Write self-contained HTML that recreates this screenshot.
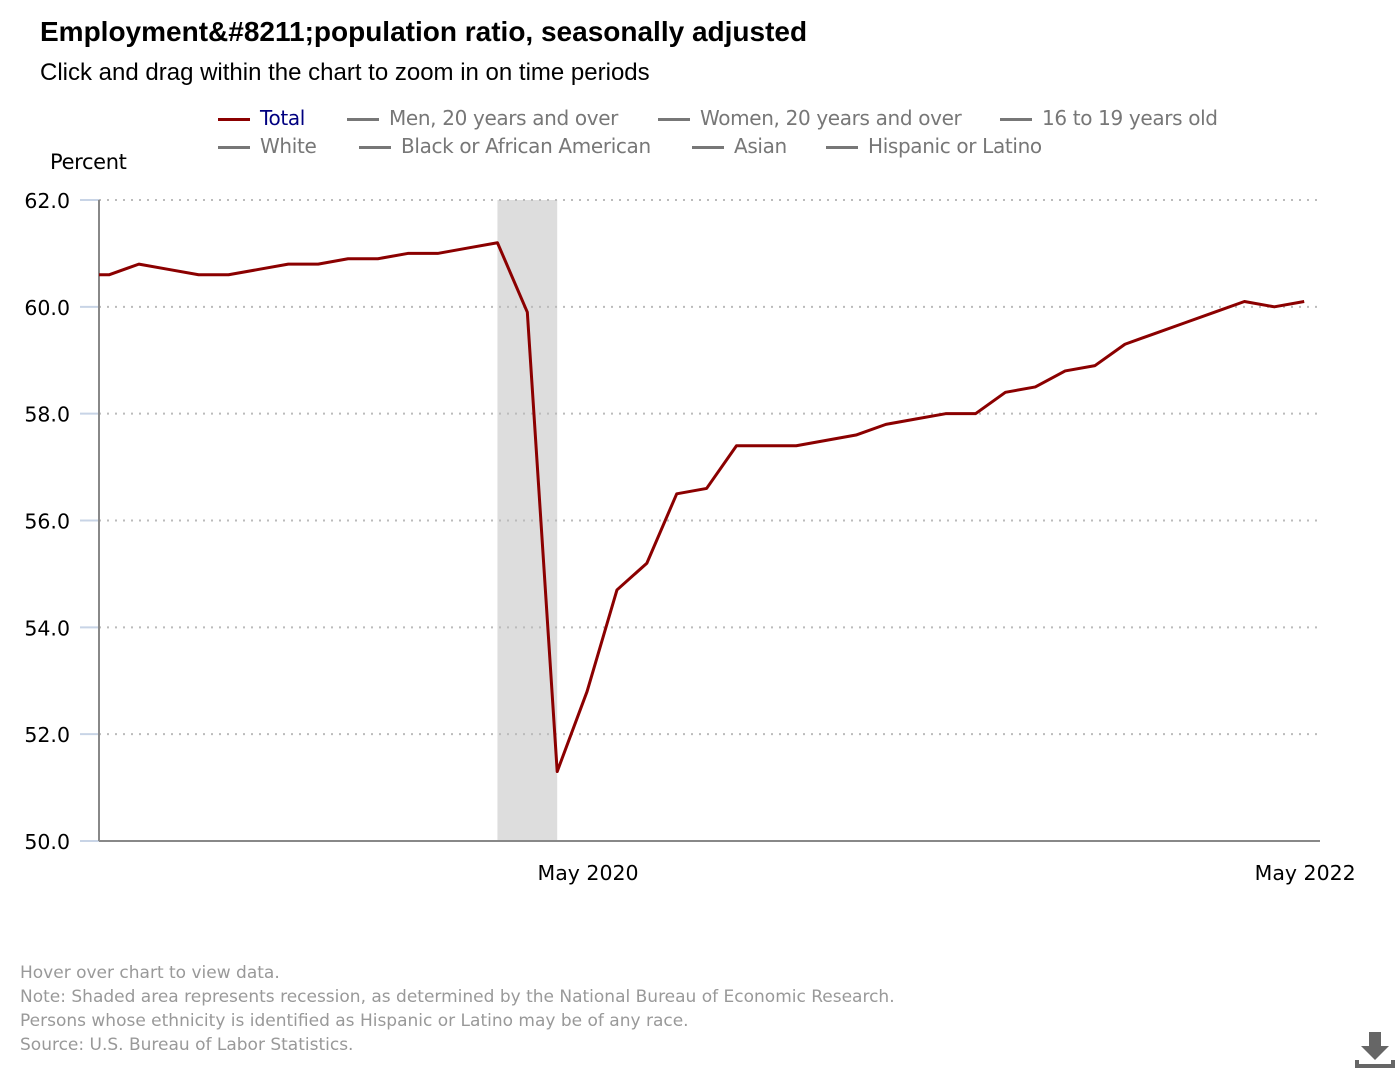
<!DOCTYPE html>
<html><head><meta charset="utf-8"><style>
body{margin:0;width:1400px;height:1080px;background:#fff;font-family:"Liberation Sans",sans-serif;position:relative;overflow:hidden}
.t{position:absolute;white-space:nowrap}
.leg{position:absolute;font-size:20px;color:#777;font-family:"DejaVu Sans","Liberation Sans",sans-serif;white-space:nowrap;letter-spacing:-0.35px}
.leg span.l{display:inline-block;width:32px;height:3px;background:#777;vertical-align:middle;margin-right:10px}
.foot{position:absolute;left:20px;font-size:17px;color:#999;font-family:"DejaVu Sans","Liberation Sans",sans-serif;white-space:nowrap;letter-spacing:0px}
</style></head><body>
<div class="t" style="left:40px;top:16px;font-size:28px;font-weight:bold">Employment&amp;#8211;population ratio, seasonally adjusted</div>
<div class="t" style="left:40px;top:59px;font-size:24px">Click and drag within the chart to zoom in on time periods</div>
<div class="leg" style="left:218px;top:106px;color:#000080"><span class="l" style="background:#8b0000"></span>Total</div>
<div class="leg" style="left:347px;top:106px"><span class="l"></span>Men, 20 years and over</div>
<div class="leg" style="left:658px;top:106px"><span class="l"></span>Women, 20 years and over</div>
<div class="leg" style="left:1000px;top:106px"><span class="l"></span>16 to 19 years old</div>
<div class="leg" style="left:218px;top:134px"><span class="l"></span>White</div>
<div class="leg" style="left:359px;top:134px"><span class="l"></span>Black or African American</div>
<div class="leg" style="left:692px;top:134px"><span class="l"></span>Asian</div>
<div class="leg" style="left:826px;top:134px"><span class="l"></span>Hispanic or Latino</div>
<div class="leg" style="left:50px;top:150px;color:#000;font-size:21px">Percent</div>
<svg id="chart" width="1400" height="900" style="position:absolute;left:0;top:0"></svg>
<div class="foot" style="top:963px">Hover over chart to view data.</div>
<div class="foot" style="top:987px">Note: Shaded area represents recession, as determined by the National Bureau of Economic Research.</div>
<div class="foot" style="top:1011px">Persons whose ethnicity is identified as Hispanic or Latino may be of any race.</div>
<div class="foot" style="top:1035px">Source: U.S. Bureau of Labor Statistics.</div>
<svg width="40" height="40" style="position:absolute;left:1355px;top:1030px"><path d="M14 2h12v14h8l-14 14-14-14h8z" fill="#666"/><rect x="0" y="34" width="40" height="4" fill="#666"/><rect x="0" y="30" width="4" height="6" fill="#666"/><rect x="36" y="30" width="4" height="6" fill="#666"/></svg>
<script>
const months=["Dec 2018","Jan 2019","Feb 2019","Mar 2019","Apr 2019","May 2019","Jun 2019","Jul 2019","Aug 2019","Sep 2019","Oct 2019","Nov 2019","Dec 2019","Jan 2020","Feb 2020","Mar 2020","Apr 2020","May 2020","Jun 2020","Jul 2020","Aug 2020","Sep 2020","Oct 2020","Nov 2020","Dec 2020","Jan 2021","Feb 2021","Mar 2021","Apr 2021","May 2021","Jun 2021","Jul 2021","Aug 2021","Sep 2021","Oct 2021","Nov 2021","Dec 2021","Jan 2022","Feb 2022","Mar 2022","Apr 2022","May 2022"];
const totalValues=[60.6,60.6,60.8,60.7,60.6,60.6,60.7,60.8,60.8,60.9,60.9,61.0,61.0,61.1,61.2,59.9,51.3,52.8,54.7,55.2,56.5,56.6,57.4,57.4,57.4,57.5,57.6,57.8,57.9,58.0,58.0,58.4,58.5,58.8,58.9,59.3,59.5,59.7,59.9,60.1,60.0,60.1];
const yTicks=[50,52,54,56,58,60,62];
const xTickLabels=["May 2020","May 2022"];
const recession=["Feb 2020","Apr 2020"];
const NS="http://www.w3.org/2000/svg",svg=document.getElementById('chart');
const L=99,R=1320,T=200,B=841;
const x=i=>109+(i-1)*29.88;
const xm=m=>x(months.indexOf(m));
const y=v=>B-(v-50)/12*(B-T);
function mk(t,a){const e=document.createElementNS(NS,t);for(const k in a)e.setAttribute(k,a[k]);svg.appendChild(e);return e;}
const clip=mk('clipPath',{id:'pc'});const cr=document.createElementNS(NS,'rect');cr.setAttribute('x',L);cr.setAttribute('y',0);cr.setAttribute('width',R-L);cr.setAttribute('height',900);clip.appendChild(cr);
const sh=mk('rect',{x:xm(recession[0]),y:T,width:xm(recession[1])-xm(recession[0]),height:B-T,fill:'#dddddd'});


yTicks.forEach(v=>{
 if(v>50){const g=mk('line',{x1:L,x2:R,y1:y(v),y2:y(v),stroke:'#bbb','stroke-width':2,'stroke-dasharray':'2 6'});
 
 }
 const tk=mk('line',{x1:80,x2:L,y1:y(v),y2:y(v),stroke:'#c8d4e6','stroke-width':2});
 
 
 const tx=mk('text',{x:70,y:y(v)+8,'text-anchor':'end','font-size':20.5,'font-family':'DejaVu Sans, Liberation Sans, sans-serif',fill:'#000'});
 tx.textContent=v.toFixed(1);
 
 
});
const ax=mk('line',{x1:L,x2:L,y1:T,y2:B,stroke:'#888','stroke-width':2});


const bx=mk('line',{x1:L,x2:R,y1:B,y2:B,stroke:'#888','stroke-width':2});


xTickLabels.forEach(m=>{const tx=mk('text',{x:xm(m)+1,y:880,'text-anchor':'middle','font-size':20.5,'font-family':'DejaVu Sans, Liberation Sans, sans-serif',fill:'#000'});
 tx.textContent=m;
 
 });
const ln=mk('polyline',{points:totalValues.map((v,i)=>x(i)+','+y(v)).join(' '),fill:'none',stroke:'#8b0000','stroke-width':3,'clip-path':'url(#pc)','stroke-linejoin':'round'});


</script>
</body></html>
